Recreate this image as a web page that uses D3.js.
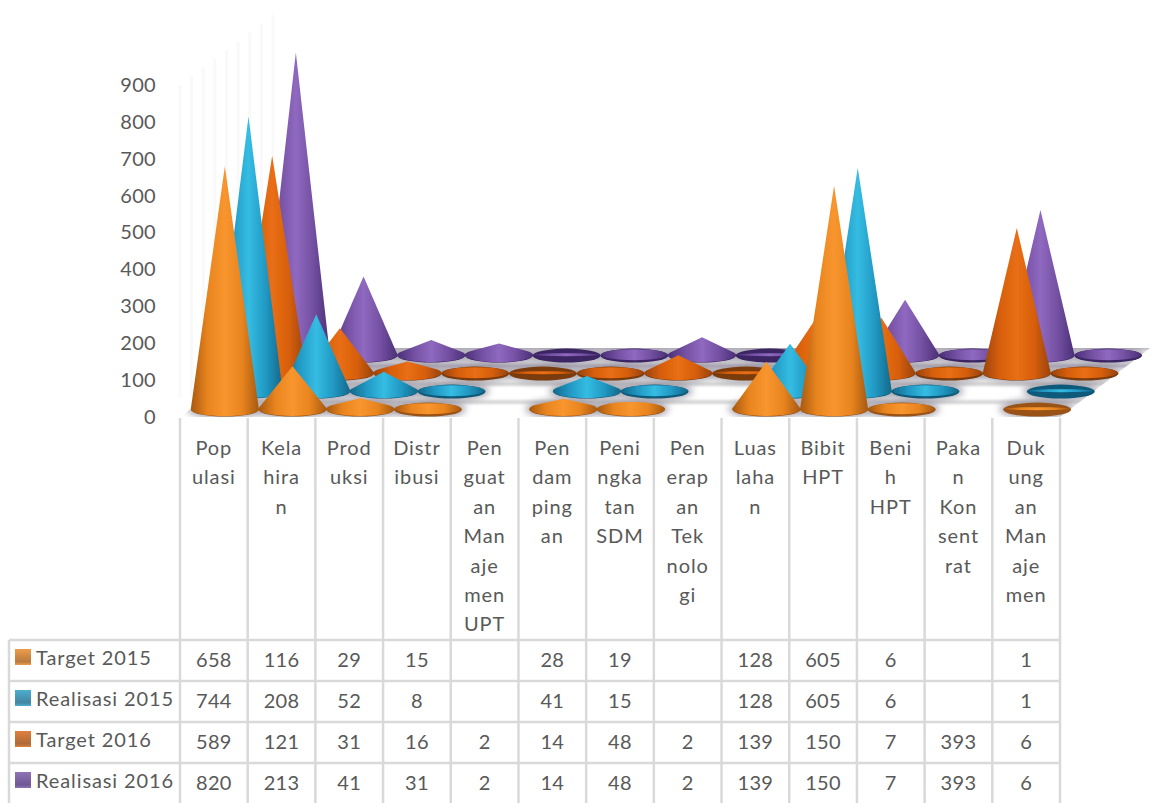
<!DOCTYPE html>
<html>
<head>
<meta charset="utf-8">
<script src="https://cdn.jsdelivr.net/npm/d3@7"></script>
<style>
  html, body { margin: 0; padding: 0; background: #fff; overflow: hidden; }
  text { font-family: Lato, "Open Sans", sans-serif; fill: #595959; font-size: 20px; }
  .wide { letter-spacing: 0.9px; }
  .num { letter-spacing: 0.3px; }
</style>
</head>
<body>
<svg id="chart" width="1155" height="803"></svg>
<script>
const categories = ['Populasi', 'Kelahiran', 'Produksi', 'Distribusi', 'Penguatan Manajemen UPT', 'Pendampingan',
    'Peningkatan SDM', 'Penerapan Teknologi', 'Luas lahan', 'Bibit HPT', 'Benih HPT', 'Pakan Konsentrat', 'Dukungan Manajemen'];
// the category cell wraps words at odd places, kept as in the picture
const categoryLines = [['Pop', 'ulasi'], ['Kela', 'hira', 'n'], ['Prod', 'uksi'], ['Distr', 'ibusi'],
    ['Pen', 'guat', 'an', 'Man', 'aje', 'men', 'UPT'], ['Pen', 'dam', 'ping', 'an'], ['Peni', 'ngka', 'tan', 'SDM'],
    ['Pen', 'erap', 'an', 'Tek', 'nolo', 'gi'], ['Luas', 'laha', 'n'], ['Bibit', 'HPT'], ['Beni', 'h', 'HPT'],
    ['Paka', 'n', 'Kon', 'sent', 'rat'], ['Duk', 'ung', 'an', 'Man', 'aje', 'men']];
const seriesNames = ['Target 2015', 'Realisasi 2015', 'Target 2016', 'Realisasi 2016'];
const target2015 = [658, 116, 29, 15, null, 28, 19, null, 128, 605, 6, null, 1];
const realisasi2015 = [744, 208, 52, 8, null, 41, 15, null, 128, 605, 6, null, 1];
const target2016 = [589, 121, 31, 16, 2, 14, 48, 2, 139, 150, 7, 393, 6];
const realisasi2016 = [820, 213, 41, 31, 2, 14, 48, 2, 139, 150, 7, 393, 6];
const seriesValues = [target2015, realisasi2015, target2016, realisasi2016];
const yTicks = [0, 100, 200, 300, 400, 500, 600, 700, 800, 900];
// edge, middle, highlight, dark underside
const seriesColors = [
    ['#a8590f', '#e9851f', '#f8952e', '#9a5214'],
    ['#14688a', '#2199c4', '#35bce2', '#0f5a7a'],
    ['#9a4406', '#d75f0c', '#e96e14', '#7a3a0a'],
    ['#4b2f78', '#7450a2', '#8f69c0', '#3a2564']
];

const svg = d3.select('#chart');
const defs = svg.append('defs');

const tableLeft = 9, colLeft = 180, colRight = 1060;
const rowTops = [640, 681, 722, 763], pageBottom = 803;
const plotBottom = 417, plotTop = 85;
const gridColor = '#d9d9d9';

const xScale = d3.scaleBand().domain(categories).range([colLeft, colRight]);
const yScale = d3.scaleLinear().domain([0, 900]).range([plotBottom, plotTop]);
// the fake 3d floor: each series sits further right and further up
const depthX = d3.scalePoint().domain(seriesNames).range([0, 71]);
const depthY = d3.scalePoint().domain(seriesNames).range([0, 54]);
const frontShift = 11, baseLift = 8, coneRx = 34, coneRy = 7;

const soft = defs.append('filter').attr('id', 'soft').attr('x', '-10%').attr('y', '-10%').attr('width', '120%').attr('height', '120%');
soft.append('feGaussianBlur').attr('stdDeviation', 0.7);
const shade = defs.append('filter').attr('id', 'shade').attr('x', '-30%').attr('y', '-80%').attr('width', '160%').attr('height', '260%');
shade.append('feGaussianBlur').attr('stdDeviation', 3.5);
const stripBlur = defs.append('filter').attr('id', 'stripBlur').attr('x', '-5%').attr('y', '-200%').attr('width', '110%').attr('height', '500%');
stripBlur.append('feGaussianBlur').attr('stdDeviation', 1.2);

seriesColors.forEach((c, i) => {
    const g = defs.append('linearGradient').attr('id', 'cone' + i);
    [[0, c[0]], [0.25, c[1]], [0.5, c[2]], [0.75, c[1]], [1, c[0]]].forEach(s =>
        g.append('stop').attr('offset', s[0]).attr('stop-color', s[1]));
    const k = defs.append('linearGradient').attr('id', 'key' + i).attr('x2', 0).attr('y2', 1);
    [[0, c[1]], [0.8, c[0]], [1, c[1]]].forEach(s =>
        k.append('stop').attr('offset', s[0]).attr('stop-color', s[1]).attr('stop-opacity', 0.8));
});

// faint side wall lines
const wallX = d3.scaleLinear().domain([0, 8]).range([colLeft, colLeft + 93]);
const wallTop = d3.scaleLinear().domain([0, 8]).range([plotTop, 15]);
svg.append('g').selectAll('line').data(d3.range(9)).join('line')
    .attr('x1', d => wallX(d)).attr('x2', d => wallX(d))
    .attr('y1', d => wallTop(d)).attr('y2', plotBottom - 20)
    .attr('stroke', '#f9f9f9').attr('stroke-width', 3);

// floor
const floorBack = depthY.range()[1] + baseLift + 7;
const floorRun = floorBack * 1.31;
const floorPts = [[colLeft, plotBottom], [colRight, plotBottom], [colRight + floorRun, plotBottom - floorBack], [colLeft + floorRun, plotBottom - floorBack]];
svg.append('clipPath').attr('id', 'floorClip').append('path').attr('d', d3.line()(floorPts) + 'Z');
const floor = svg.append('g').attr('clip-path', 'url(#floorClip)');
floor.append('path').attr('d', d3.line()(floorPts) + 'Z').attr('fill', '#fff');
floor.selectAll('rect.strip').data(seriesNames).join('rect').attr('class', 'strip')
    .attr('x', colLeft).attr('width', colRight + floorRun - colLeft)
    .attr('y', d => plotBottom - baseLift - depthY(d) - 9).attr('height', 4)
    .attr('fill', (d, i) => i > 1 ? '#c4bdce' : '#d8d8d8').attr('filter', 'url(#stripBlur)');

const depthOrder = seriesNames.map((s, i) => i).reverse();
const marks = [];
depthOrder.forEach(i => {
    categories.forEach((c, j) => {
        const v = seriesValues[i][j];
        if (v === null) return;
        marks.push({ series: i, name: seriesNames[i], cat: c, value: v,
            cx: xScale(c) + xScale.bandwidth() / 2 + frontShift + depthX(seriesNames[i]),
            cy: plotBottom - baseLift - depthY(seriesNames[i]),
            h: yScale(0) - yScale(v) });
    });
});

// grey shadow around the feet of the cones
floor.selectAll('ellipse.shadow').data(marks).join('ellipse').attr('class', 'shadow')
    .attr('cx', d => d.cx).attr('cy', d => d.cy)
    .attr('rx', coneRx + 4).attr('ry', coneRy + 3)
    .attr('fill', '#8f8b98').attr('opacity', 0.75).attr('filter', 'url(#shade)');

function conePath(d) {
    const k = coneRy / d.h;
    const tx = coneRx * Math.sqrt(1 - k * k), ty = coneRy * k;
    return `M${d.cx - tx},${d.cy - ty}A${coneRx},${coneRy} 0 1 0 ${d.cx + tx},${d.cy - ty}L${d.cx},${d.cy - d.h}Z`;
}

const cones = svg.append('g').attr('filter', 'url(#soft)');
marks.forEach(d => {
    const c = seriesColors[d.series];
    // underside
    cones.append('ellipse').attr('cx', d.cx).attr('cy', d.cy + 0.6)
        .attr('rx', coneRx).attr('ry', coneRy).attr('fill', c[3]);
    if (d.h > coneRy) {
        cones.append('path').attr('d', conePath(d)).attr('fill', `url(#cone${d.series})`);
    } else {
        cones.append('ellipse').attr('cx', d.cx).attr('cy', d.cy - 0.3)
            .attr('rx', coneRx - 1).attr('ry', d.h < 1 ? 1.5 : coneRy - 1.5)
            .attr('fill', `url(#cone${d.series})`);
    }
});

// y axis
const yAxis = d3.axisLeft(yScale).tickValues(yTicks).tickSize(0).tickPadding(0);
svg.append('g').attr('transform', 'translate(156,0)').call(yAxis)
    .call(g => g.select('.domain').remove())
    .selectAll('text').attr('class', 'num').style('font-size', '20px').attr('fill', '#595959');

// table grid
const grid = svg.append('g').attr('stroke', gridColor).attr('stroke-width', 2.5);
const colEdges = categories.map(c => xScale(c)).concat(colRight);
grid.selectAll('line.v').data(colEdges).join('line').attr('class', 'v')
    .attr('x1', d => d).attr('x2', d => d).attr('y1', plotBottom + 1).attr('y2', pageBottom);
grid.append('line').attr('x1', tableLeft).attr('x2', tableLeft).attr('y1', rowTops[0]).attr('y2', pageBottom);
grid.selectAll('line.h').data(rowTops).join('line').attr('class', 'h')
    .attr('x1', tableLeft).attr('x2', colRight).attr('y1', d => d).attr('y2', d => d);

// wrapped category names
const lineStep = 29.4, firstLine = 450;
svg.append('g').selectAll('text').data(categories).join('text')
    .attr('class', 'wide').attr('text-anchor', 'middle')
    .attr('dominant-baseline', 'middle')
    .each(function (c, j) {
        d3.select(this).selectAll('tspan').data(categoryLines[j]).join('tspan')
            .attr('x', xScale(c) + xScale.bandwidth() / 2)
            .attr('y', (d, i) => firstLine + i * lineStep)
            .text(d => d);
    });

// legend column and values
const rowH = 41;
seriesNames.forEach((s, i) => {
    const top = rowTops[i];
    svg.append('rect').attr('x', 15).attr('y', top + 9).attr('width', 16).attr('height', 16)
        .attr('fill', `url(#key${i})`);
    svg.append('text').attr('class', 'wide').attr('x', 36).attr('y', top + rowH / 2 - 1).attr('dominant-baseline', 'middle')
        .text(s);
    svg.append('g').selectAll('text').data(seriesValues[i]).join('text')
        .attr('class', 'num')
        .attr('x', (d, j) => xScale(categories[j]) + xScale.bandwidth() / 2)
        .attr('y', top + rowH / 2 + 1)
        .attr('text-anchor', 'middle').attr('dominant-baseline', 'middle')
        .text(d => d === null ? '' : d);
});
</script>
</body>
</html>
